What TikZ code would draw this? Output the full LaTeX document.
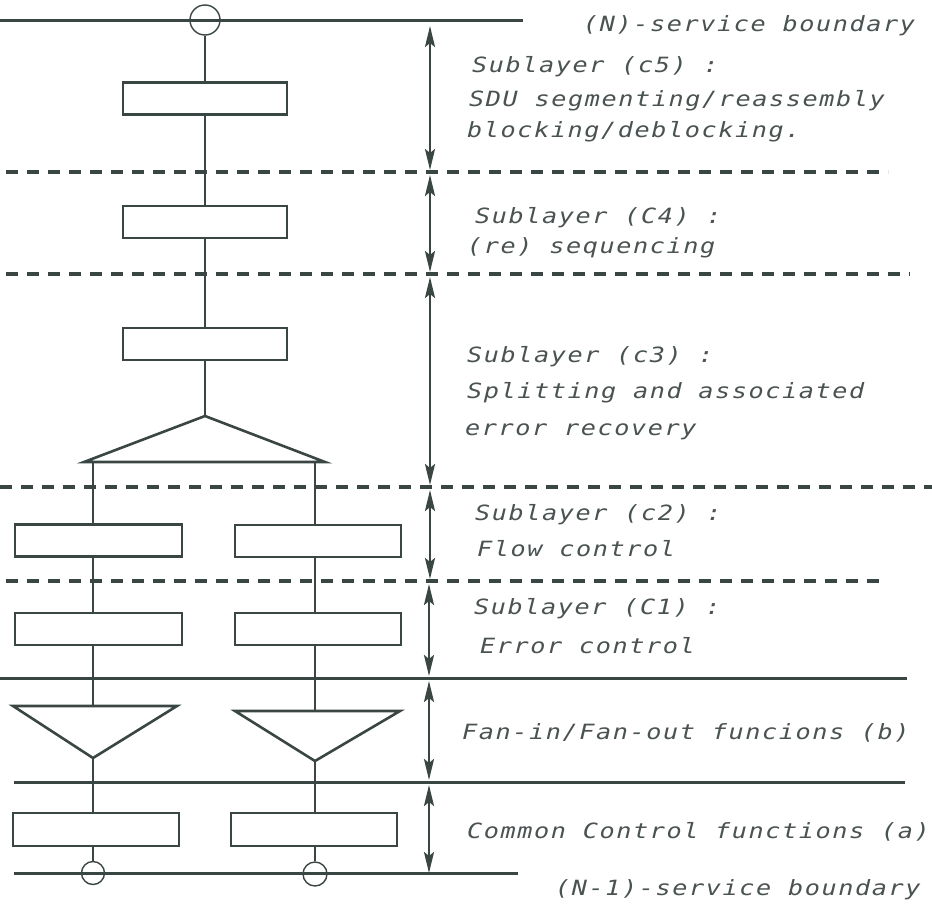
\documentclass[tikz,border=0pt]{standalone}
\usepackage{fontspec}
\usetikzlibrary{arrows.meta}
\newfontfamily\lblfont{DejaVu Sans Mono Oblique}[FakeStretch=1.2,LetterSpace=7.5]
\definecolor{ink}{HTML}{3A4644}
\definecolor{txt}{HTML}{4A5252}

\begin{document}
\begin{tikzpicture}[x=1pt,y=-1pt,
  rule/.style={ink,line width=3pt},
  dashrule/.style={ink,line width=3.4pt,dash pattern=on 12pt off 9pt},
  wire/.style={ink,line width=1.6pt},
  unit/.style={draw=ink,line width=2.6pt,inner sep=0pt,
    minimum width=165pt,minimum height=32pt},
  port/.style={circle,draw=ink,line width=1.4pt,inner sep=0pt},
  fan/.style={draw=ink,line width=2.6pt,line join=miter},
  span/.style={ink,line width=2.8pt,
    {Stealth[length=21pt,width=10pt,inset=4pt]}-{Stealth[length=21pt,width=10pt,inset=4pt]}},
  lbl/.style={anchor=base west,inner sep=0pt,text=txt,
    font=\lblfont\fontsize{21}{24}\selectfont},
]
\useasboundingbox (0,0) rectangle (932,905);

% ---------- layer boundaries ----------
\coordinate (L0) at (430,20);
\coordinate (L1) at (430,172);
\coordinate (L2) at (430,274);
\coordinate (L3) at (430,487);
\coordinate (L4) at (430,581);
\coordinate (L5) at (429,678);
\coordinate (L6) at (429,782);
\coordinate (L7) at (429,873);

\draw[rule] (0,20) -- (523,20);
\draw[dashrule] (6,172) -- (888,172);
\draw[dashrule] (6,274) -- (910,274);
\draw[dashrule] (0,487) -- (932,487);
\draw[dashrule] (6,581) -- (882,581);
\draw[rule] (0,678) -- (907,678);
\draw[rule] (14,782) -- (905,782);
\draw[rule] (14,873) -- (518,873);

% ---------- extent arrows ----------
\draw[span,shorten <=6pt,shorten >=2pt] (L0) -- (L1);
\draw[span,shorten <=3pt,shorten >=2pt] (L1) -- (L2);
\draw[span,shorten <=3pt,shorten >=2pt] (L2) -- (L3);
\draw[span,shorten <=3pt,shorten >=2pt] (L3) -- (L4);
\draw[span,shorten <=3pt,shorten >=2pt] (L4 -| L5) -- (L5);
\draw[span,shorten <=3pt,shorten >=2pt] (L5) -- (L6);
\draw[span,shorten <=3pt,shorten >=0pt] (L6) -- (L7);

% ---------- upper single stack ----------
\node[port,minimum size=30pt] (top) at (205,20) {};
\node[unit,minimum width=164pt] (c5) at (205,98.5) {};
\node[unit,minimum width=164pt] (c4) at (205,222) {};
\node[unit,minimum width=164pt] (c3) at (205,344) {};

% splitting triangle
\coordinate (sApex) at (205,416);
\coordinate (sL) at (84,462);
\coordinate (sR) at (325,462);
\coordinate (wL) at (93,462);
\coordinate (wR) at (315,462);

\draw[wire] (top) -- (c5);
\draw[wire] (c5) -- (c4);
\draw[wire] (c4) -- (c3);
\draw[wire] (c3) -- (sApex);
\draw[fan] (sApex) -- (sR) -- (sL) -- cycle;

% ---------- two parallel stacks ----------
\node[unit,minimum width=167pt] (c2L) at (98.5,540.5) {};
\node[unit,minimum width=166pt] (c2R) at (318,541) {};
\node[unit,minimum width=167pt] (c1L) at (98.5,629) {};
\node[unit,minimum width=166pt] (c1R) at (318,629) {};

% fan-in / fan-out triangles
\coordinate (fLa) at (13,706);
\coordinate (fLb) at (177,706);
\coordinate (fLapex) at (93,758);
\coordinate (fRa) at (235,711);
\coordinate (fRb) at (400,711);
\coordinate (fRapex) at (315,761);

\node[unit,minimum width=166pt,minimum height=33pt] (aL) at (96,829.5) {};
\node[unit,minimum width=166pt,minimum height=33pt] (aR) at (314,829.5) {};

\node[port,minimum size=23pt] (botL) at (93,873) {};
\node[port,minimum size=24pt] (botR) at (315,874) {};

\draw[wire] (wL) -- (wL |- c2L.north);
\draw[wire] (wR) -- (wR |- c2R.north);
\draw[wire] (wL |- c2L.south) -- (wL |- c1L.north);
\draw[wire] (wR |- c2R.south) -- (wR |- c1R.north);
\draw[wire] (wL |- c1L.south) -- (fLapex |- fLa);
\draw[wire] (wR |- c1R.south) -- (fRapex |- fRa);
\draw[fan] (fLa) -- (fLb) -- (fLapex) -- cycle;
\draw[fan] (fRa) -- (fRb) -- (fRapex) -- cycle;
\draw[wire] (fLapex) -- (fLapex |- aL.north);
\draw[wire] (fRapex) -- (fRapex |- aR.north);
\draw[wire] (fLapex |- aL.south) -- (botL.north);
\draw[wire] (fRapex |- aR.south) -- (botR.north);

% ---------- labels ----------
\node[lbl] (tN) at (583,31) {(N)-service boundary};
\node[lbl] (t5a) at (472,72) {Sublayer (c5) :};
\node[lbl] (t5b) at (469,106) {SDU segmenting/reassembly};
\node[lbl] (t5c) at (467,137) {blocking/deblocking.};
\node[lbl] (t4a) at (475,223) {Sublayer (C4) :};
\node[lbl] (t4b) at (467,253) {(re) sequencing};
\node[lbl] (t3a) at (467,362) {Sublayer (c3) :};
\node[lbl] (t3b) at (467,398) {Splitting and associated};
\node[lbl] (t3c) at (465,435) {error recovery};
\node[lbl] (t2a) at (475,520) {Sublayer (c2) :};
\node[lbl] (t2b) at (477,556) {Flow control};
\node[lbl] (t1a) at (474,614) {Sublayer (C1) :};
\node[lbl] (t1b) at (480,653) {Error control};
\node[lbl] (tb) at (462,739) {Fan-in/Fan-out funcions (b)};
\node[lbl] (ta) at (467,838) {Common Control functions (a)};
\node[lbl] (tN1) at (555,895) {(N-1)-service boundary};
\end{tikzpicture}
\end{document}
